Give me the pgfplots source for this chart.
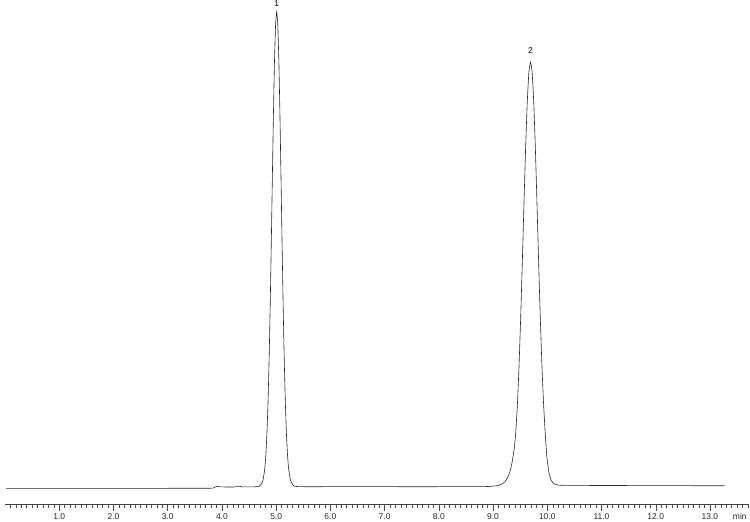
\documentclass[border=0pt]{standalone}
\usepackage{fontspec}
\setmainfont{Liberation Sans}
\usepackage{pgfplots}
\pgfplotsset{compat=1.18}

% chromatogram trace, retention time (min) vs. signal (arbitrary units)
\pgfplotstableread{
t     s
0.02  15.7
1.00  15.7
2.00  15.7
3.00  15.7
3.80  15.8
3.86  16.6
3.91  17.8
3.96  17.2
4.10  17.0
4.25  17.1
4.31  17.9
4.37  17.1
4.50  17.1
4.61  17.2
4.69  17.7
4.73  20.2
4.76  24.4
4.79  35.2
4.81  49.0
4.83  70.3
4.85  101.3
4.87  143.5
4.89  196.7
4.91  258.8
4.93  325.4
4.95  389.6
4.97  443.5
4.99  479.5
5.01  492.2
5.03  479.5
5.05  443.5
5.07  389.6
5.09  325.4
5.11  258.8
5.13  196.7
5.15  143.5
5.17  101.3
5.19  70.3
5.21  49.0
5.23  35.2
5.26  25.0
5.29  20.5
5.33  17.9
5.40  17.4
5.50  17.3
6.00  17.3
7.00  17.3
8.00  17.3
8.80  17.4
8.94  17.6
9.09  18.5
9.19  20.8
9.26  25.3
9.31  32.3
9.35  41.3
9.39  55.3
9.42  72.5
9.45  100.6
9.48  139.3
9.51  187.2
9.54  242.0
9.57  299.8
9.60  354.9
9.63  400.7
9.66  431.1
9.69  442.0
9.72  432.4
9.75  402.0
9.78  356.2
9.81  301.1
9.84  243.3
9.87  188.5
9.90  140.6
9.93  101.9
9.96  72.7
9.99  48.6
10.03 31.6
10.07 24.1
10.12 20.4
10.19 19.0
10.30 18.7
11.00 18.5
12.00 18.4
13.27 18.2
}\trace

\begin{document}
\begin{tikzpicture}
\begin{axis}[
  at={(5bp,18bp)}, anchor=south west,
  scale only axis, width=744bp, height=504bp,
  xmin=0, xmax=13.72, ymin=0, ymax=504,
  axis x line=bottom, axis y line=none,
  axis line style={-, black!75, line width=0.5pt},
  xtick={1,2,...,13},
  minor xtick={0.1,0.2,...,13.7},
  extra x ticks={13.55},
  extra x tick labels={min},
  extra x tick style={tick style={draw=none}},
  tick align=outside,
  major tick length=7bp, minor tick length=4bp,
  every tick/.style={black!70, line width=0.4pt},
  xticklabel style={font=\fontsize{8.5}{10}\selectfont, text=black!85, text height=6bp, text depth=0pt, inner sep=1.5bp, yshift=-0.5bp},
  /pgf/number format/assume math mode=true,
  /pgf/number format/.cd, fixed, fixed zerofill, precision=1,
]
\addplot[black!85, line width=0.6pt, smooth, tension=0.3] table[x=t, y=s] {\trace};
\node[font=\fontsize{8.5}{9}\selectfont] at (axis cs:5.01,500) {1};
\node[font=\fontsize{8.5}{9}\selectfont] at (axis cs:9.69,453) {2};
\end{axis}
\pgfresetboundingbox
\path[use as bounding box] (0,0) rectangle (750bp,522bp);
\end{tikzpicture}
\end{document}
